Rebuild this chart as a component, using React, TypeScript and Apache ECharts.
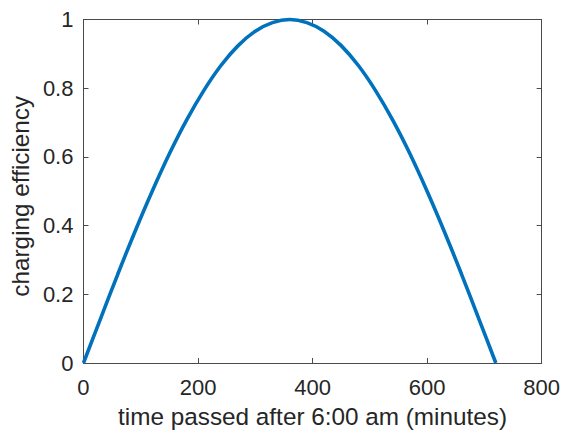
import React, { useEffect, useRef } from "react";
import * as echarts from "echarts";

const timeMinutes = [0, 30, 60, 90, 120, 150, 180, 210, 240, 270, 300, 330, 360, 390, 420, 450, 480, 510, 540, 570, 600, 630, 660, 690, 720];
const efficiency = [0, 0.13, 0.259, 0.383, 0.5, 0.609, 0.707, 0.793, 0.866, 0.924, 0.966, 0.991, 1, 0.991, 0.966, 0.924, 0.866, 0.793, 0.707, 0.609, 0.5, 0.383, 0.259, 0.13, 0];
const xTicks = { min: 0, max: 800, interval: 200 };
const yTicks = { min: 0, max: 1, interval: 0.2 };
const xName = "time passed after 6:00 am (minutes)";
const yName = "charging efficiency";

const FONT = "'Liberation Sans', Arial, Helvetica, sans-serif";
const INK = "#262626";
const LINE = "#4a4a4a";

export default function App() {
  const ref = useRef<HTMLDivElement>(null);
  useEffect(() => {
    if (!ref.current) return;
    const chart = echarts.init(ref.current, undefined, { renderer: "svg" });
    const axisLine = { show: true, onZero: false, lineStyle: { color: LINE, width: 1 } };
    const axisTick = { show: true, inside: true, length: 5, lineStyle: { color: LINE, width: 1 } };
    chart.setOption({
      animation: false,
      backgroundColor: "#ffffff",
      grid: { left: 83, top: 19.5, right: 17, bottom: 69, containLabel: false },
      xAxis: [
        {
          type: "value",
          position: "bottom",
          ...xTicks,
          axisLine,
          axisTick,
          splitLine: { show: false },
          axisLabel: { color: INK, fontSize: 22, fontFamily: FONT, margin: 13 },
          name: xName,
          nameLocation: "middle",
          nameGap: 41,
          nameTextStyle: { color: INK, fontSize: 24.3, fontFamily: FONT },
        },
        {
          type: "value",
          position: "top",
          ...xTicks,
          axisLine,
          axisTick,
          splitLine: { show: false },
          axisLabel: { show: false },
        },
      ],
      yAxis: [
        {
          type: "value",
          position: "left",
          ...yTicks,
          axisLine,
          axisTick,
          splitLine: { show: false },
          axisLabel: { color: INK, fontSize: 22, fontFamily: FONT, margin: 10 },
          name: yName,
          nameLocation: "middle",
          nameGap: 46,
          nameTextStyle: { color: INK, fontSize: 24.3, fontFamily: FONT, padding: [0, 10, 0, 0] },
        },
        {
          type: "value",
          position: "right",
          ...yTicks,
          axisLine,
          axisTick,
          splitLine: { show: false },
          axisLabel: { show: false },
        },
      ],
      series: [
        {
          type: "line",
          data: timeMinutes.map((t, i) => [t, efficiency[i]]),
          showSymbol: false,
          smooth: 0.3,
          clip: false,
          lineStyle: { color: "#0072BD", width: 3.6 },
          itemStyle: { color: "#0072BD" },
        },
      ],
    });
    return () => chart.dispose();
  }, []);
  return (
    <div
      ref={ref}
      style={{ position: "fixed", left: 0, top: 0, width: 563, height: 433, background: "#fff" }}
    />
  );
}
